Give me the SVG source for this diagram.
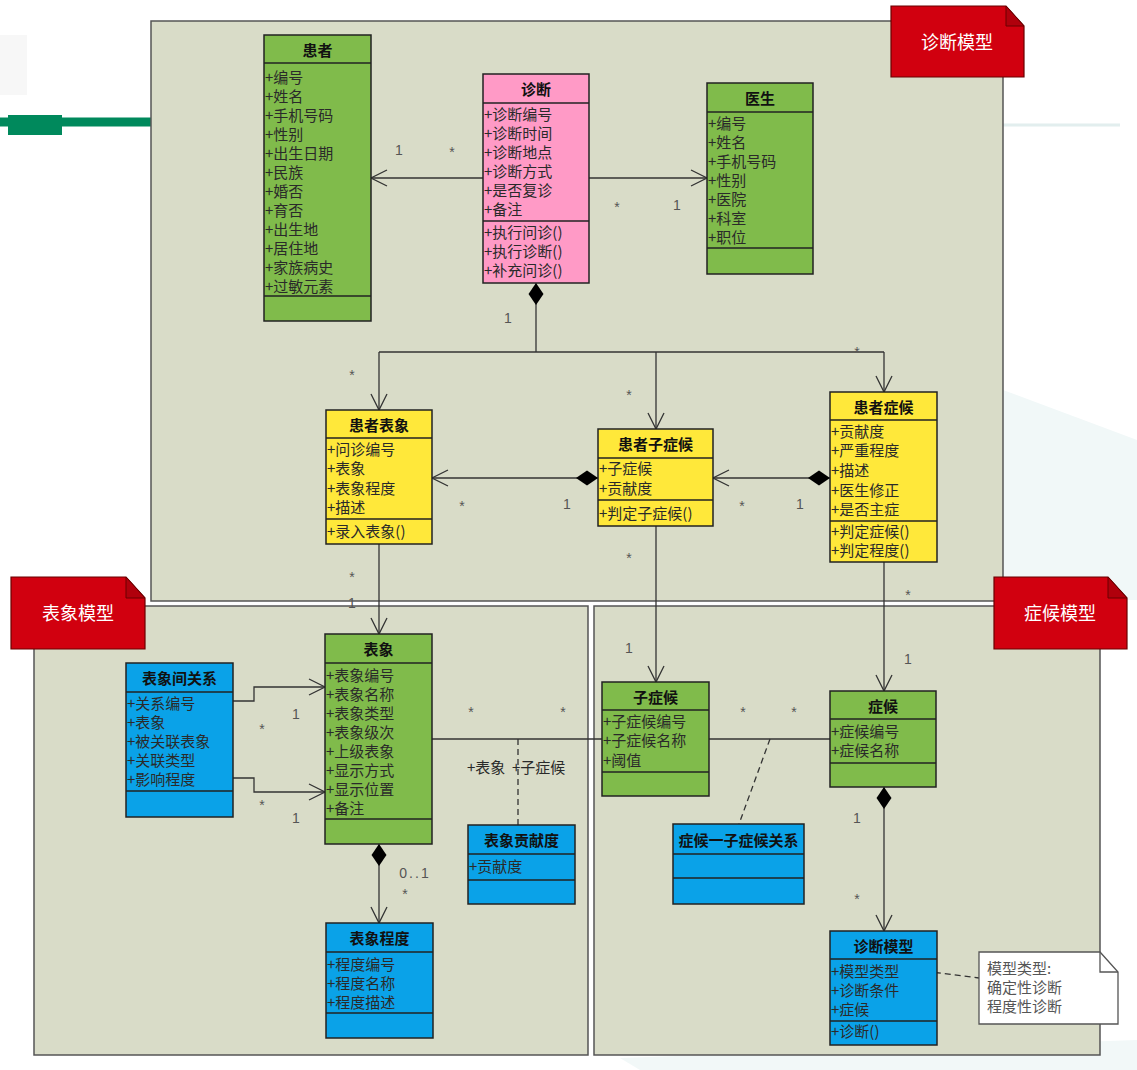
<svg xmlns="http://www.w3.org/2000/svg" width="1137" height="1070" viewBox="0 0 1137 1070">
<style>
.pkg{fill:#d9dcc8;stroke:#555;stroke-width:1.5}
.tab{fill:#d1000f;stroke:#6a0000;stroke-width:1.2}
.fold{fill:#b0000c;stroke:#6a0000;stroke-width:1}
.tabt{font-family:"Noto Sans CJK SC","Noto Sans",sans-serif;font-size:18px;fill:#fff;text-anchor:middle;dominant-baseline:central}
.box{stroke:#222;stroke-width:1.5}
.g{fill:#80bb4b}.p{fill:#ff9ac6}.y{fill:#ffe83a}.b{fill:#0aa2e8}
.sep{stroke:#222;stroke-width:1.5}
.h{font-family:"Noto Sans CJK SC","Noto Sans",sans-serif;font-size:15px;font-weight:bold;fill:#111;text-anchor:middle;dominant-baseline:central}
.a{font-family:"Noto Sans CJK SC","Noto Sans",sans-serif;font-size:15px;fill:#2a2a2a;dominant-baseline:central}
.c{fill:none;stroke:#333;stroke-width:1.3}
.d{fill:none;stroke:#333;stroke-width:1.3;stroke-dasharray:6 4}
.m{font-family:"Liberation Sans",Arial,sans-serif;font-size:14px;fill:#555;text-anchor:middle;dominant-baseline:central}
.n{font-family:"Noto Sans CJK SC","Noto Sans",sans-serif;font-size:15px;fill:#555;dominant-baseline:central}
</style>
<defs>
<marker id="arr" markerUnits="userSpaceOnUse" markerWidth="18" markerHeight="18" refX="16" refY="8" orient="auto" overflow="visible">
<path d="M0,0 L16,8 L0,16" fill="none" stroke="#333" stroke-width="1.3"/>
</marker>
<marker id="dia" markerUnits="userSpaceOnUse" markerWidth="24" markerHeight="16" refX="0" refY="7.5" orient="auto" overflow="visible">
<path d="M0,7.5 L11,0 L22,7.5 L11,15 Z" fill="#000"/>
</marker>
</defs>
<rect width="1137" height="1070" fill="#fff"/>
<polygon points="1003,390 1137,440 1137,600 1003,600" fill="#f1f8f8"/>
<polygon points="620,1058 1137,1040 1137,1070 640,1070" fill="#f2f8f8"/>
<line x1="1003" y1="125" x2="1120" y2="125" stroke="#e2eeee" stroke-width="3"/>
<rect x="0" y="35" width="27" height="60" fill="#f7f7f7"/>
<line x1="0" y1="122" x2="151" y2="122" stroke="#00895c" stroke-width="9"/>
<rect x="8" y="115" width="54" height="20" fill="#00895c"/>

<g id="pkg-diagnosis">
<rect class="pkg" x="151" y="21" width="852" height="580"/>
<polygon class="tab" points="891,6 1006,6 1024,26 1024,77 891,77"/>
<polygon class="fold" points="1006,6 1024,26 1006,26"/>
<text class="tabt" x="957" y="41">诊断模型</text>
</g>
<g id="pkg-appearance">
<rect class="pkg" x="34" y="606" width="554" height="449"/>
<polygon class="tab" points="11,577 126,577 145,598 145,649 11,649"/>
<polygon class="fold" points="126,577 145,598 126,598"/>
<text class="tabt" x="78" y="612">表象模型</text>
</g>
<g id="pkg-symptom">
<rect class="pkg" x="594" y="606" width="506" height="449"/>
<polygon class="tab" points="994,577 1108,577 1127,598 1127,649 994,649"/>
<polygon class="fold" points="1108,577 1127,598 1108,598"/>
<text class="tabt" x="1060" y="612">症候模型</text>
</g>

<g id="connectors">
<path class="c" d="M483,178 L371,178" marker-end="url(#arr)"/>
<path class="c" d="M589,178 L707,178" marker-end="url(#arr)"/>
<path class="c" d="M536,283 L536,352" marker-start="url(#dia)"/>
<path class="c" d="M379,352 L884,352"/>
<path class="c" d="M379,352 L379,410" marker-end="url(#arr)"/>
<path class="c" d="M656,352 L656,429" marker-end="url(#arr)"/>
<path class="c" d="M884,352 L884,392" marker-end="url(#arr)"/>
<path class="c" d="M598,478 L432,478" marker-start="url(#dia)" marker-end="url(#arr)"/>
<path class="c" d="M830,478 L713,478" marker-start="url(#dia)" marker-end="url(#arr)"/>
<path class="c" d="M379,544 L379,634" marker-end="url(#arr)"/>
<path class="c" d="M656,526 L656,682" marker-end="url(#arr)"/>
<path class="c" d="M884,562 L884,691" marker-end="url(#arr)"/>
<path class="c" d="M233,701 L254,701 L254,687 L325,687" marker-end="url(#arr)"/>
<path class="c" d="M233,778 L254,778 L254,792 L325,792" marker-end="url(#arr)"/>
<path class="c" d="M432,739 L602,739"/>
<path class="d" d="M518,739 L518,825"/>
<path class="c" d="M379,844 L379,923" marker-start="url(#dia)" marker-end="url(#arr)"/>
<path class="c" d="M709,739 L830,739"/>
<path class="d" d="M770,739 L739,824"/>
<path class="c" d="M884,787 L884,931" marker-start="url(#dia)" marker-end="url(#arr)"/>
<path class="d" d="M915,970 L979,978"/>
<text class="m" x="399" y="150">1</text>
<text class="m" x="452" y="152">*</text>
<text class="m" x="617" y="207">*</text>
<text class="m" x="677" y="205">1</text>
<text class="m" x="508" y="318">1</text>
<text class="m" x="352" y="375">*</text>
<text class="m" x="629" y="395">*</text>
<text class="m" x="857" y="352">*</text>
<text class="m" x="462" y="506">*</text>
<text class="m" x="567" y="504">1</text>
<text class="m" x="742" y="506">*</text>
<text class="m" x="800" y="504">1</text>
<text class="m" x="352" y="577">*</text>
<text class="m" x="352" y="603">1</text>
<text class="m" x="629" y="558">*</text>
<text class="m" x="629" y="648">1</text>
<text class="m" x="908" y="595">*</text>
<text class="m" x="908" y="659">1</text>
<text class="m" x="296" y="714">1</text>
<text class="m" x="262" y="729">*</text>
<text class="m" x="262" y="805">*</text>
<text class="m" x="296" y="818">1</text>
<text class="m" x="471" y="712">*</text>
<text class="m" x="563" y="712">*</text>
<text class="m" x="743" y="712">*</text>
<text class="m" x="794" y="712">*</text>
<text class="m" x="857" y="818">1</text>
<text class="m" x="857" y="899">*</text>
<text class="m" x="405" y="894">*</text>
<text class="m" x="415" y="873" letter-spacing="2">0..1</text>
<text class="a" x="467" y="766" fill="#333">+表象</text>
<text class="a" x="512" y="766" fill="#333">+子症候</text>
</g>

<g id="patient">
<rect class="box g" x="264" y="35" width="107" height="286"/>
<line class="sep" x1="264" y1="63" x2="371" y2="63"/><line class="sep" x1="264" y1="296" x2="371" y2="296"/>
<text class="h" x="317.5" y="49">患者</text>
<text class="a" x="265" y="76">+编号</text><text class="a" x="265" y="95">+姓名</text><text class="a" x="265" y="114">+手机号码</text><text class="a" x="265" y="133">+性别</text><text class="a" x="265" y="152">+出生日期</text><text class="a" x="265" y="171">+民族</text><text class="a" x="265" y="190">+婚否</text><text class="a" x="265" y="209">+育否</text><text class="a" x="265" y="228">+出生地</text><text class="a" x="265" y="247">+居住地</text><text class="a" x="265" y="266">+家族病史</text><text class="a" x="265" y="285">+过敏元素</text>
</g>
<g id="diagnosis">
<rect class="box p" x="483" y="74" width="106" height="209"/>
<line class="sep" x1="483" y1="103" x2="589" y2="103"/><line class="sep" x1="483" y1="221" x2="589" y2="221"/>
<text class="h" x="536" y="88.5">诊断</text>
<text class="a" x="484" y="113">+诊断编号</text><text class="a" x="484" y="132">+诊断时间</text><text class="a" x="484" y="151">+诊断地点</text><text class="a" x="484" y="170">+诊断方式</text><text class="a" x="484" y="189">+是否复诊</text><text class="a" x="484" y="208">+备注</text>
<text class="a" x="484" y="231">+执行问诊()</text><text class="a" x="484" y="250">+执行诊断()</text><text class="a" x="484" y="269">+补充问诊()</text>
</g>
<g id="doctor">
<rect class="box g" x="707" y="83" width="106" height="191"/>
<line class="sep" x1="707" y1="112" x2="813" y2="112"/><line class="sep" x1="707" y1="248" x2="813" y2="248"/>
<text class="h" x="760" y="97.5">医生</text>
<text class="a" x="708" y="122">+编号</text><text class="a" x="708" y="141">+姓名</text><text class="a" x="708" y="160">+手机号码</text><text class="a" x="708" y="179">+性别</text><text class="a" x="708" y="198">+医院</text><text class="a" x="708" y="217">+科室</text><text class="a" x="708" y="236">+职位</text>
</g>
<g id="patient-appearance">
<rect class="box y" x="326" y="410" width="106" height="134"/>
<line class="sep" x1="326" y1="438" x2="432" y2="438"/><line class="sep" x1="326" y1="519" x2="432" y2="519"/>
<text class="h" x="379" y="424">患者表象</text>
<text class="a" x="327" y="448">+问诊编号</text><text class="a" x="327" y="467">+表象</text><text class="a" x="327" y="487">+表象程度</text><text class="a" x="327" y="506">+描述</text>
<text class="a" x="327" y="530">+录入表象()</text>
</g>
<g id="patient-subsymptom">
<rect class="box y" x="598" y="429" width="115" height="97"/>
<line class="sep" x1="598" y1="458" x2="713" y2="458"/><line class="sep" x1="598" y1="500" x2="713" y2="500"/>
<text class="h" x="655.5" y="443.5">患者子症候</text>
<text class="a" x="599" y="467">+子症候</text><text class="a" x="599" y="487">+贡献度</text>
<text class="a" x="599" y="512">+判定子症候()</text>
</g>
<g id="patient-symptom">
<rect class="box y" x="830" y="392" width="107" height="170"/>
<line class="sep" x1="830" y1="420" x2="937" y2="420"/><line class="sep" x1="830" y1="521" x2="937" y2="521"/>
<text class="h" x="883.5" y="406">患者症候</text>
<text class="a" x="831" y="430">+贡献度</text><text class="a" x="831" y="449">+严重程度</text><text class="a" x="831" y="469">+描述</text><text class="a" x="831" y="489">+医生修正</text><text class="a" x="831" y="508">+是否主症</text>
<text class="a" x="831" y="530">+判定症候()</text><text class="a" x="831" y="549">+判定程度()</text>
</g>
<g id="appearance-relation">
<rect class="box b" x="126" y="663" width="107" height="154"/>
<line class="sep" x1="126" y1="692" x2="233" y2="692"/><line class="sep" x1="126" y1="791" x2="233" y2="791"/>
<text class="h" x="179.5" y="677.5">表象间关系</text>
<text class="a" x="127" y="702">+关系编号</text><text class="a" x="127" y="721">+表象</text><text class="a" x="127" y="740">+被关联表象</text><text class="a" x="127" y="759">+关联类型</text><text class="a" x="127" y="778">+影响程度</text>
</g>
<g id="appearance">
<rect class="box g" x="325" y="634" width="107" height="210"/>
<line class="sep" x1="325" y1="663" x2="432" y2="663"/><line class="sep" x1="325" y1="819" x2="432" y2="819"/>
<text class="h" x="378.5" y="648.5">表象</text>
<text class="a" x="326" y="674">+表象编号</text><text class="a" x="326" y="693">+表象名称</text><text class="a" x="326" y="712">+表象类型</text><text class="a" x="326" y="731">+表象级次</text><text class="a" x="326" y="750">+上级表象</text><text class="a" x="326" y="769">+显示方式</text><text class="a" x="326" y="788">+显示位置</text><text class="a" x="326" y="807">+备注</text>
</g>
<g id="appearance-contribution">
<rect class="box b" x="468" y="825" width="107" height="79"/>
<line class="sep" x1="468" y1="854" x2="575" y2="854"/><line class="sep" x1="468" y1="880" x2="575" y2="880"/>
<text class="h" x="521.5" y="839.5">表象贡献度</text>
<text class="a" x="469" y="865">+贡献度</text>
</g>
<g id="appearance-degree">
<rect class="box b" x="326" y="923" width="107" height="115"/>
<line class="sep" x1="326" y1="952" x2="433" y2="952"/><line class="sep" x1="326" y1="1013" x2="433" y2="1013"/>
<text class="h" x="379.5" y="937.5">表象程度</text>
<text class="a" x="327" y="963">+程度编号</text><text class="a" x="327" y="982">+程度名称</text><text class="a" x="327" y="1001">+程度描述</text>
</g>
<g id="subsymptom">
<rect class="box g" x="602" y="682" width="107" height="114"/>
<line class="sep" x1="602" y1="710" x2="709" y2="710"/><line class="sep" x1="602" y1="772" x2="709" y2="772"/>
<text class="h" x="655.5" y="696">子症候</text>
<text class="a" x="603" y="720">+子症候编号</text><text class="a" x="603" y="739">+子症候名称</text><text class="a" x="603" y="759">+阈值</text>
</g>
<g id="symptom">
<rect class="box g" x="830" y="691" width="106" height="96"/>
<line class="sep" x1="830" y1="719" x2="936" y2="719"/><line class="sep" x1="830" y1="763" x2="936" y2="763"/>
<text class="h" x="883" y="705">症候</text>
<text class="a" x="831" y="730">+症候编号</text><text class="a" x="831" y="749">+症候名称</text>
</g>
<g id="symptom-subsymptom-relation">
<rect class="box b" x="673" y="824" width="131" height="80"/>
<line class="sep" x1="673" y1="854" x2="804" y2="854"/><line class="sep" x1="673" y1="878" x2="804" y2="878"/>
<text class="h" x="738.5" y="839">症候一子症候关系</text>
</g>
<g id="diagnosis-model">
<rect class="box b" x="830" y="931" width="107" height="114"/>
<line class="sep" x1="830" y1="959" x2="937" y2="959"/><line class="sep" x1="830" y1="1021" x2="937" y2="1021"/>
<text class="h" x="883.5" y="945">诊断模型</text>
<text class="a" x="831" y="970">+模型类型</text><text class="a" x="831" y="989">+诊断条件</text><text class="a" x="831" y="1008">+症候</text>
<text class="a" x="831" y="1030">+诊断()</text>
</g>
<g id="note">
<polygon points="979,952 1100,952 1118,972 1118,1024 979,1024" fill="#fff" stroke="#555" stroke-width="1.3"/>
<polyline points="1100,952 1100,972 1118,972" fill="none" stroke="#555" stroke-width="1.3"/>
<text class="n" x="987" y="967">模型类型:</text>
<text class="n" x="987" y="986">确定性诊断</text>
<text class="n" x="987" y="1005">程度性诊断</text>
</g>
</svg>
